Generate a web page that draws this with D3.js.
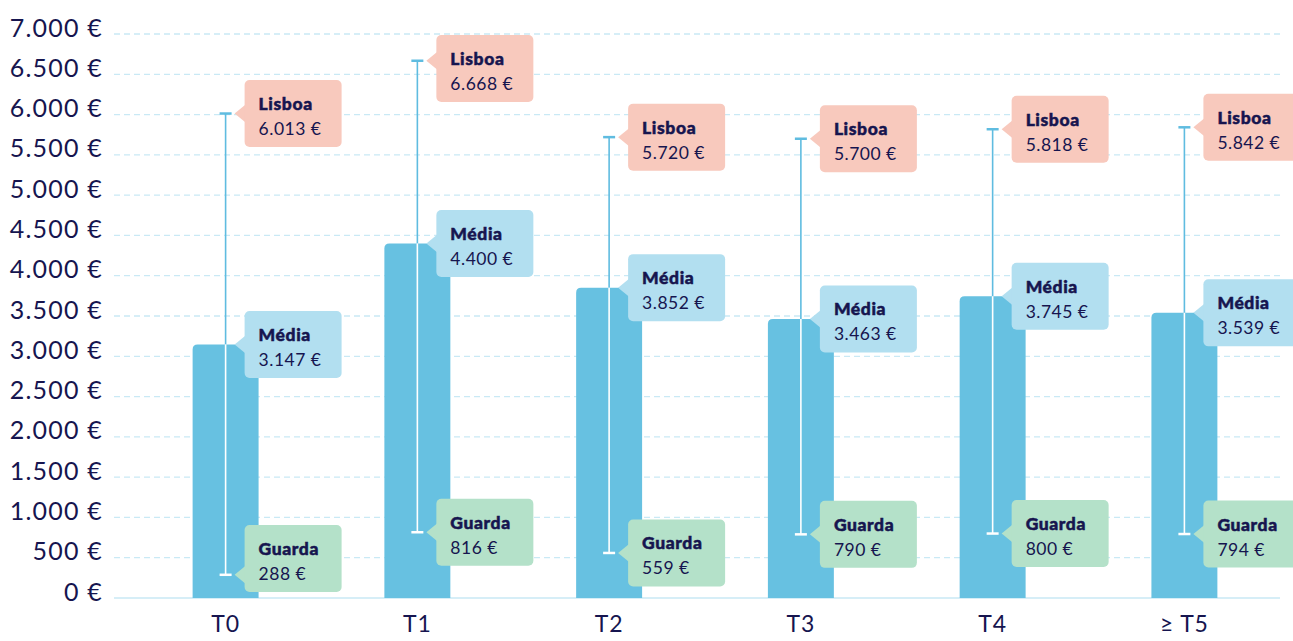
<!DOCTYPE html>
<html>
<head>
<meta charset="utf-8">
<script src="https://cdn.jsdelivr.net/npm/d3@7"></script>
<style>
  html, body { margin: 0; padding: 0; background: #ffffff; }
  #chart { width: 1293px; height: 641px; overflow: hidden; }
  svg { display: block; font-family: Lato, "Noto Sans", sans-serif; }
</style>
</head>
<body>
<div id="chart"></div>
<script>
// chart values
const categories = ["T0", "T1", "T2", "T3", "T4", "\u2265 T5"];
const mediaValues = [3147, 4400, 3852, 3463, 3745, 3539];
const lisboaValues = [6013, 6668, 5720, 5700, 5818, 5842];
const guardaValues = [288, 816, 559, 790, 800, 794];
const yTicks = [0, 500, 1000, 1500, 2000, 2500, 3000, 3500, 4000, 4500, 5000, 5500, 6000, 6500, 7000];

const W = 1293, H = 641;
const navy = "#16154f";

const svg = d3.select("#chart")
    .append("svg")
    .attr("width", W)
    .attr("height", H);

// scales
const x = d3.scaleBand()
    .domain(categories)
    .range([114, 1296])
    .paddingInner(0.656)
    .paddingOuter(0.41);

const y = d3.scaleLinear()
    .domain([0, 7000])
    .range([598, 34]);

const fmtNum = d => d3.format(",")(d).replace(/,/g, ".") + " \u20ac";

// dashed grid lines
svg.append("g")
    .selectAll("line")
    .data(yTicks.filter(d => d > 0))
    .join("line")
    .attr("x1", 114)
    .attr("x2", 1280)
    .attr("y1", d => y(d))
    .attr("y2", d => y(d))
    .attr("stroke", "#c9e9f5")
    .attr("stroke-width", 1.3)
    .attr("stroke-dasharray", "6,4");

// baseline
svg.append("line")
    .attr("x1", 114)
    .attr("x2", 1280)
    .attr("y1", y(0))
    .attr("y2", y(0))
    .attr("stroke", "#c9e9f5")
    .attr("stroke-width", 1.5);

// y axis labels
const yAxis = svg.append("g")
    .attr("transform", "translate(114,0)")
    .call(d3.axisLeft(y).tickValues(yTicks).tickSize(0).tickPadding(11).tickFormat(fmtNum));
yAxis.select(".domain").remove();
yAxis.selectAll(".tick text")
    .attr("dy", "0.08em")
    .style("font-family", "Lato, sans-serif")
    .style("font-size", "25px")
    .style("letter-spacing", "1.2px")
    .style("fill", navy);

// x axis labels
const xAxis = svg.append("g")
    .attr("transform", `translate(0,${y(0)})`)
    .call(d3.axisBottom(x).tickSize(0).tickPadding(18));
xAxis.select(".domain").remove();
xAxis.selectAll(".tick text")
    .attr("dy", "0.71em")
    .style("font-family", "Lato, sans-serif")
    .style("font-size", "23px")
    .style("letter-spacing", "0.8px")
    .style("fill", navy);

const rows = categories.map((c, i) => ({
    cat: c,
    media: mediaValues[i],
    lisboa: lisboaValues[i],
    guarda: guardaValues[i]
}));

// bars with rounded top corners
const r = 5;
svg.append("g")
    .selectAll("path")
    .data(rows)
    .join("path")
    .attr("fill", "#67c1e1")
    .attr("d", d => {
        const x0 = x(d.cat), x1 = x0 + x.bandwidth();
        const top = y(d.media), bot = y(0);
        return `M${x0},${bot}V${top + r}Q${x0},${top} ${x0 + r},${top}` +
               `H${x1 - r}Q${x1},${top} ${x1},${top + r}V${bot}Z`;
    });

// range whiskers: blue above the bar, white inside it
const whisk = svg.append("g");
rows.forEach(d => {
    const cx = x(d.cat) + x.bandwidth() / 2;
    whisk.append("line")
        .attr("x1", cx).attr("x2", cx)
        .attr("y1", y(d.lisboa)).attr("y2", y(d.media))
        .attr("stroke", "#5fbce0").attr("stroke-width", 1.6);
    whisk.append("line")
        .attr("x1", cx).attr("x2", cx)
        .attr("y1", y(d.media)).attr("y2", y(d.guarda))
        .attr("stroke", "#ffffff").attr("stroke-width", 1.6);
    whisk.append("line")
        .attr("x1", cx - 6).attr("x2", cx + 6)
        .attr("y1", y(d.lisboa)).attr("y2", y(d.lisboa))
        .attr("stroke", "#5fbce0").attr("stroke-width", 2.5);
    whisk.append("line")
        .attr("x1", cx - 6).attr("x2", cx + 6)
        .attr("y1", y(d.guarda)).attr("y2", y(d.guarda))
        .attr("stroke", "#ffffff").attr("stroke-width", 2.5);
});

// callouts
const boxW = 97, boxH = 67;
const callouts = [];
rows.forEach(d => {
    callouts.push({cat: d.cat, name: "Lisboa", value: d.lisboa, fill: "#f8c9bd"});
    callouts.push({cat: d.cat, name: "M\u00e9dia", value: d.media, fill: "#b2dff0"});
    callouts.push({cat: d.cat, name: "Guarda", value: d.guarda, fill: "#b4e1c9"});
});

const cg = svg.append("g")
    .selectAll("g")
    .data(callouts)
    .join("g")
    .attr("transform", d => {
        const cx = x(d.cat) + x.bandwidth() / 2;
        const vy = y(d.value);
        let top = vy - boxH / 2;
        top = Math.max(35, Math.min(592 - boxH, top));
        d.top = top;
        d.arrowY = Math.max(top + 12, Math.min(top + boxH - 12, vy));
        return `translate(${cx + 19},0)`;
    });

cg.append("path")
    .attr("fill", d => d.fill)
    .attr("d", d => `M1,${d.arrowY - 9}L-10,${d.arrowY}L1,${d.arrowY + 9}Z`);

cg.append("rect")
    .attr("x", 0)
    .attr("y", d => d.top)
    .attr("width", boxW)
    .attr("height", boxH)
    .attr("rx", 5)
    .attr("fill", d => d.fill);

cg.append("text")
    .attr("x", 14)
    .attr("y", d => d.top + 30)
    .style("font-family", "Lato, sans-serif")
    .style("font-size", "17.5px")
    .style("font-weight", 900)
    .style("letter-spacing", "0.6px")
    .style("stroke", navy)
    .style("stroke-width", "0.5px")
    .style("fill", navy)
    .text(d => d.name);

cg.append("text")
    .attr("x", 14)
    .attr("y", d => d.top + 55)
    .style("font-family", "Lato, sans-serif")
    .style("font-size", "17.5px")
    .style("letter-spacing", "0.5px")
    .style("fill", navy)
    .text(d => fmtNum(d.value));
</script>
</body>
</html>
